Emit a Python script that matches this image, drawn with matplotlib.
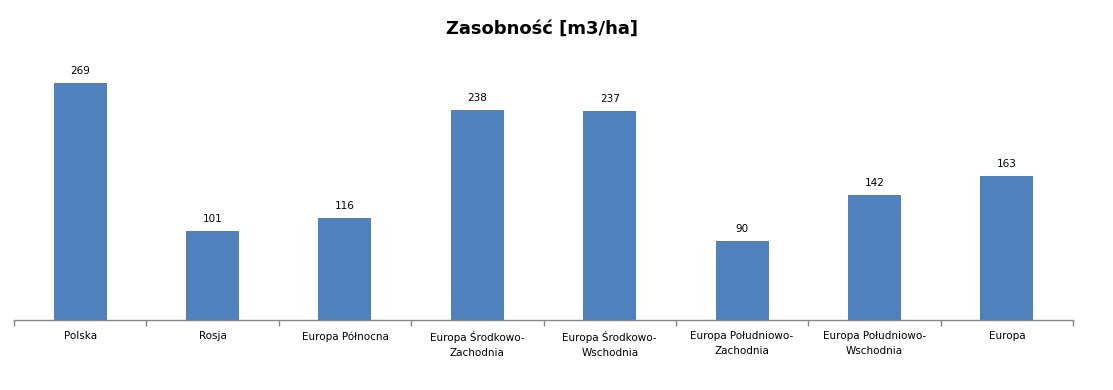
import numpy as np
import matplotlib
matplotlib.use("Agg")
import matplotlib.pyplot as plt

# data
regions = ["Polska", "Rosja", "Europa Północna", "Europa Środkowo-\nZachodnia",
           "Europa Środkowo-\nWschodnia", "Europa Południowo-\nZachodnia",
           "Europa Południowo-\nWschodnia", "Europa"]
values = [269, 101, 116, 238, 237, 90, 142, 163]

fig = plt.figure(figsize=(11.13, 3.9), dpi=100)
ax = fig.add_axes([0.0126, 0.1795, 0.9515, 0.678])

x = np.arange(len(regions))
bars = ax.bar(x, values, width=0.4, color="#4F81BD")
for xi, v in zip(x, values):
    ax.text(xi, v + 8, str(v), ha="center", va="bottom", fontsize=7.5, color="black")

ax.set_xlim(-0.5, len(regions) - 0.5)
ax.set_ylim(0, 300)

# category boundary ticks
ax.set_xticks(np.arange(-0.5, len(regions), 1.0))
ax.set_xticklabels([])
ax.tick_params(axis="x", direction="out", length=4, color="#868686", width=1)
for xi, lab in zip(x, regions):
    ax.text(xi, -13, lab, ha="center", va="top", fontsize=7.5, linespacing=1.6,
            color="black")

ax.set_yticks([])
for side in ["top", "right", "left"]:
    ax.spines[side].set_visible(False)
ax.spines["bottom"].set_color("#868686")
ax.spines["bottom"].set_linewidth(1)

fig.text(0.487, 0.927, "Zasobność [m3/ha]", ha="center", va="center",
         fontsize=13, fontweight="bold")

fig.savefig("out.png", dpi=100)
